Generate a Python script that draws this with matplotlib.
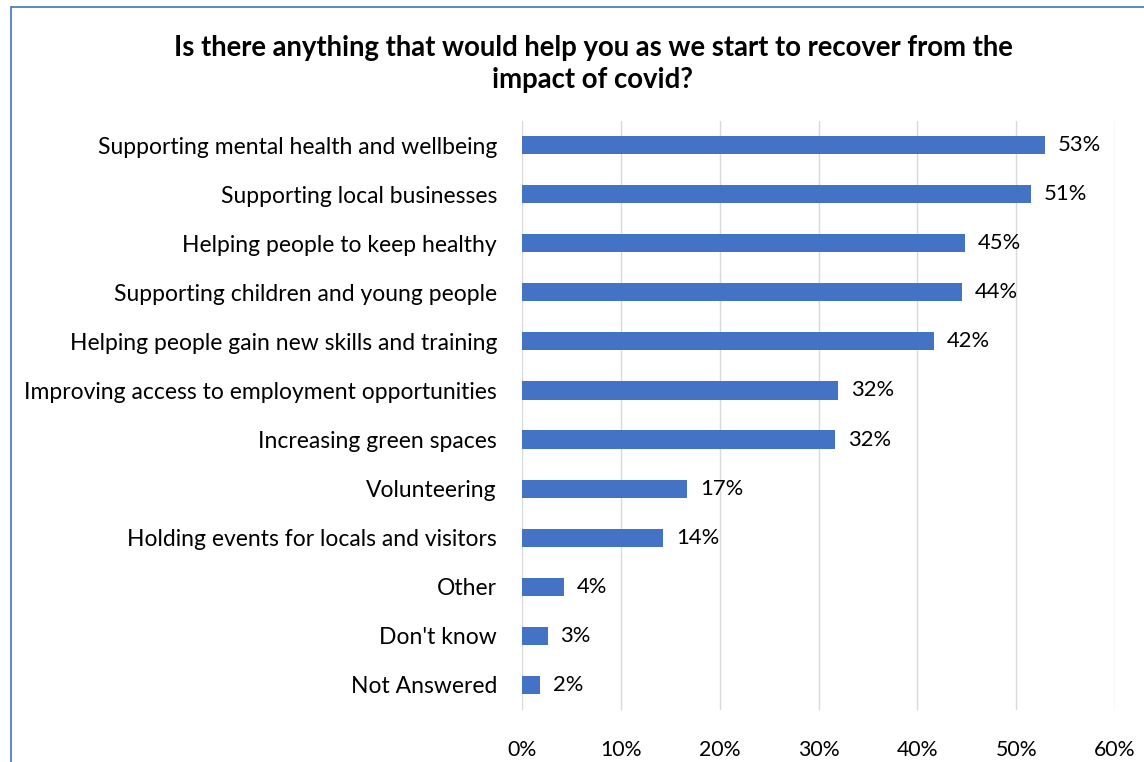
import matplotlib
matplotlib.use('Agg')
import matplotlib.pyplot as plt
from matplotlib.patches import Rectangle

categories = [
    "Supporting mental health and wellbeing",
    "Supporting local businesses",
    "Helping people to keep healthy",
    "Supporting children and young people",
    "Helping people gain new skills and training",
    "Improving access to employment opportunities",
    "Increasing green spaces",
    "Volunteering",
    "Holding events for locals and visitors",
    "Other",
    "Don't know",
    "Not Answered",
]
values = [52.9, 51.5, 44.8, 44.5, 41.7, 32.0, 31.7, 16.7, 14.3, 4.2, 2.6, 1.8]
labels = ["53%", "51%", "45%", "44%", "42%", "32%", "32%", "17%", "14%", "4%", "3%", "2%"]
xticks = [0, 10, 20, 30, 40, 50, 60]

plt.rcParams['font.family'] = ['Lato', 'DejaVu Sans']

W, H = 1144, 762
fig = plt.figure(figsize=(W / 100, H / 100), dpi=100)
ax = fig.add_axes([522 / W, 1 - 709.5 / H, (1115 - 522) / W, (709.5 - 120.5) / H])

y = list(range(len(categories)))
ax.barh(y, values, height=0.37, color='#4472c4', zorder=3)
for yi, v, lab in zip(y, values, labels):
    ax.text(v + 1.3, yi, lab, va='center', ha='left', fontsize=15.8, color='black')

ax.set_ylim(len(categories) - 0.5, -0.5)
ax.set_xlim(0, 60)
ax.set_yticks(y)
ax.set_yticklabels(categories, fontsize=16.5)
ax.set_xticks(xticks)
ax.set_xticklabels([f"{t}%" for t in xticks], fontsize=15.3)
ax.tick_params(length=0)
ax.tick_params(axis='y', pad=18)
ax.tick_params(axis='x', pad=22)
ax.grid(axis='x', color='#d9d9d9', linewidth=1, zorder=0)
for s in ax.spines.values():
    s.set_visible(False)

fig.text(593 / W, 1 - 64 / H, "Is there anything that would help you as we start to recover from the\nimpact of covid?",
         ha='center', va='center', fontsize=19.8, fontweight='bold', linespacing=1.3)

fig.patches.append(Rectangle((11 / W, -0.05), 1.1, 1 - 7 / H + 0.05, transform=fig.transFigure,
                             fill=False, edgecolor='#4472c4', linewidth=1.2))

fig.savefig('out.png', dpi=100)
